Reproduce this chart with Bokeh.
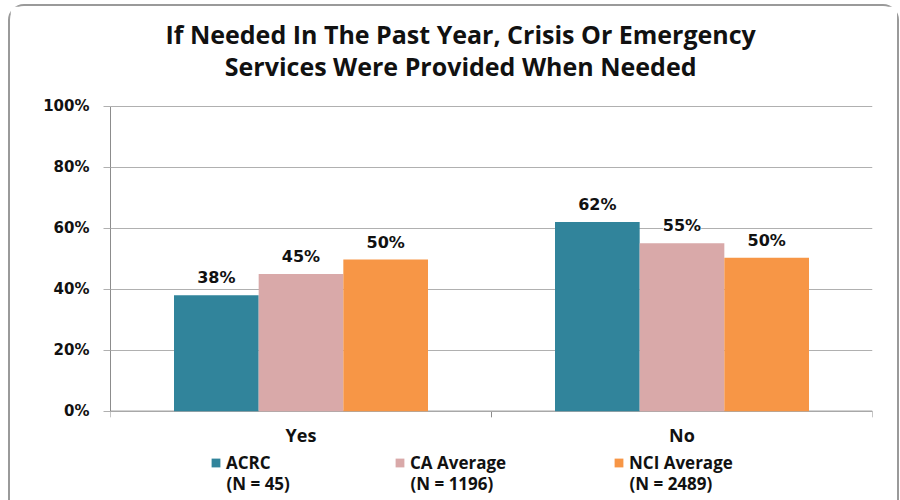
from bokeh.plotting import figure
from bokeh.models import (ColumnDataSource, Range1d, FixedTicker, PrintfTickFormatter,
                          LabelSet, Label, Legend, LegendItem)
from bokeh.core.properties import value
from bokeh.transform import dodge
from bokeh.embed import file_html
from bokeh.resources import INLINE

# ---- data ----
categories = ["Yes", "No"]
series_names = ["ACRC", "CA Average", "NCI Average"]
series_n = ["(N = 45)", "(N = 1196)", "(N = 2489)"]
acrc = [38, 62]
ca_avg = [45, 55]
nci_avg = [49.7, 50.3]
y_ticks = [0, 20, 40, 60, 80, 100]
title_lines = ["If Needed In The Past Year, Crisis Or Emergency",
               "Services Were Provided When Needed"]

colors = ["#31849B", "#D9A9A9", "#F79646"]
series_values = [acrc, ca_avg, nci_avg]

TITLE_FONT = "Open Sans"
NUM_FONT = "DejaVu Sans"

# frame spans the full canvas height; 0..100 % occupies the middle part
p = figure(width=891, height=496, output_backend="svg", toolbar_location=None,
           x_range=Range1d(0, 2), y_range=Range1d(-29.9, 132.6),
           x_axis_location=None,
           min_border_left=100, min_border_right=29, min_border_top=0, min_border_bottom=0)
p.styles = {"border-top": "2px solid #9a9a9a", "border-left": "2px solid #9a9a9a",
            "border-right": "2px solid #9a9a9a",
            "border-top-left-radius": "16px", "border-top-right-radius": "16px",
            "margin-left": "8px", "margin-top": "4px"}
p.outline_line_color = None
p.background_fill_color = "white"
p.border_fill_color = "white"

n = len(categories)
xs = [i + 0.5 for i in range(n)]
bw = 2.0 / 9.0
offsets = [-bw, 0.0, bw]

# grid
p.xgrid.grid_line_color = None
p.ygrid.grid_line_color = "#b0b0b0"
p.ygrid.grid_line_width = 1
p.ygrid.ticker = FixedTicker(ticks=y_ticks)

# category-boundary tick marks below the baseline
bounds_x = [float(i) for i in range(n + 1)]
p.segment(x0=bounds_x, y0=[0] * (n + 1), x1=bounds_x, y1=[-2.0] * (n + 1),
          line_color="#8c8c8c", line_width=1)
# baseline
p.segment(x0=[0], y0=[0], x1=[n], y1=[0], line_color="#a8a8a8", line_width=1.5)

bar_renderers = []
for vals, col, off in zip(series_values, colors, offsets):
    src = ColumnDataSource(dict(x=xs, top=vals, label=[f"{round(v)}%" for v in vals]))
    r = p.vbar(x=dodge("x", off, range=p.x_range), top="top", width=bw, source=src,
               fill_color=col, line_color=None)
    bar_renderers.append(r)
    ls = LabelSet(x=dodge("x", off, range=p.x_range), y="top", text="label", source=src,
                  text_align="center", text_baseline="bottom", y_offset=8,
                  text_font=value(NUM_FONT), text_font_style="bold", text_font_size="16px",
                  text_color="#111111", background_fill_color="white",
                  background_fill_alpha=1.0)
    p.add_layout(ls)

# category labels
cat_src = ColumnDataSource(dict(x=xs, y=[0] * n, t=categories))
p.add_layout(LabelSet(x="x", y="y", text="t", source=cat_src, y_offset=-24,
                      text_align="center", text_baseline="middle",
                      text_font=value(TITLE_FONT), text_font_style="bold",
                      text_font_size="18px", text_color="#111111"))

# title (two centred lines)
title_x = 0.919
for line, ty in zip(title_lines, [123.7, 113.2]):
    p.add_layout(Label(x=title_x, y=ty, text=line, text_align="center",
                       text_baseline="middle", text_font=TITLE_FONT,
                       text_font_style="bold", text_font_size="25px",
                       text_color="#111111"))

# y axis
p.yaxis.ticker = FixedTicker(ticks=y_ticks)
p.yaxis.bounds = (0, 100)
p.yaxis.formatter = PrintfTickFormatter(format="%d%%")
p.yaxis.axis_line_color = "#8c8c8c"
p.yaxis.major_tick_line_color = "#b0b0b0"
p.yaxis.major_tick_out = 7
p.yaxis.major_tick_in = 0
p.yaxis.minor_tick_line_color = None
p.yaxis.major_label_text_font = NUM_FONT
p.yaxis.major_label_text_font_style = "bold"
p.yaxis.major_label_text_font_size = "15px"
p.yaxis.major_label_text_color = "#111111"
p.yaxis.major_label_standoff = 14

# legend: one entry per series, with its sample size on a second line
legend_px = [100, 284, 503]          # glyph left edges, px from the frame's left
px_per_unit = 381.0
for name, nlab, r, lx in zip(series_names, series_n, bar_renderers, legend_px):
    lg = Legend(items=[LegendItem(label=name, renderers=[r])], location=(lx, 28),
                padding=0, margin=0, label_standoff=5,
                glyph_width=11, glyph_height=11, border_line_color=None,
                background_fill_alpha=0,
                label_text_font=TITLE_FONT, label_text_font_style="bold",
                label_text_font_size="17px", label_text_color="#111111")
    p.add_layout(lg, "center")
    p.add_layout(Label(x=(lx + 16) / px_per_unit, y=-23.6, text=nlab,
                       text_align="left", text_baseline="middle",
                       text_font=TITLE_FONT, text_font_style="bold",
                       text_font_size="17px", text_color="#111111"))

open("out.html", "w").write(file_html(p, INLINE))
